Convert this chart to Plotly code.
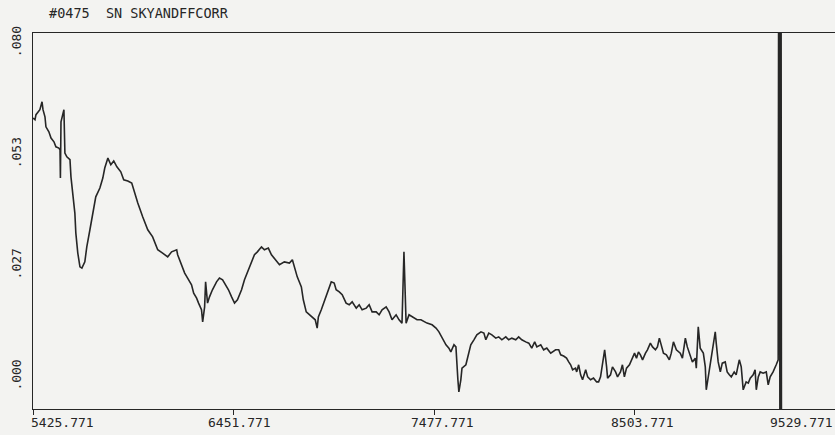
import plotly.graph_objects as go

# ---- data ----
title_text = "#0475  SN SKYANDFFCORR"

wavelength = [
    5426, 5436, 5441, 5461, 5472, 5477, 5487, 5492, 5507, 5518, 5533, 5543, 5558, 5564,
    5566, 5569, 5584, 5589, 5599, 5615, 5620, 5630, 5640, 5645, 5655, 5666, 5676, 5691,
    5701, 5717, 5732, 5747, 5768, 5783, 5793, 5809, 5824, 5839, 5855, 5875, 5890, 5911,
    5931, 5946, 5962, 5987, 6013, 6038, 6064, 6089, 6115, 6135, 6161, 6166, 6186, 6202,
    6217, 6237, 6248, 6263, 6273, 6288, 6294, 6304, 6309, 6319, 6329, 6344, 6365, 6380,
    6396, 6411, 6426, 6442, 6457, 6472, 6493, 6508, 6523, 6544, 6559, 6574, 6595, 6610,
    6630, 6646, 6666, 6687, 6712, 6738, 6753, 6763, 6778, 6799, 6809, 6824, 6840, 6855,
    6870, 6880, 6886, 6901, 6916, 6932, 6952, 6967, 6977, 6993, 7008, 7028, 7044, 7059,
    7080, 7095, 7110, 7131, 7146, 7161, 7182, 7197, 7212, 7233, 7248, 7263, 7284, 7299,
    7314, 7324, 7335, 7350, 7376, 7391, 7411, 7427, 7442, 7468, 7488, 7503, 7519, 7539,
    7554, 7564, 7580, 7590, 7600, 7605, 7615, 7621, 7641, 7656, 7666, 7682, 7697, 7718,
    7733, 7743, 7758, 7774, 7794, 7809, 7825, 7845, 7860, 7876, 7896, 7911, 7927, 7947,
    7963, 7978, 7993, 8004, 8024, 8039, 8055, 8075, 8100, 8116, 8126, 8141, 8156, 8167,
    8177, 8187, 8202, 8208, 8218, 8228, 8238, 8254, 8264, 8279, 8294, 8310, 8320, 8330,
    8341, 8351, 8361, 8366, 8381, 8391, 8407, 8417, 8432, 8442, 8452, 8463, 8478, 8488,
    8504, 8514, 8524, 8534, 8545, 8560, 8570, 8585, 8596, 8611, 8621, 8631, 8641, 8652,
    8667, 8682, 8692, 8703, 8718, 8728, 8738, 8749, 8764, 8774, 8789, 8800, 8815, 8820,
    8830, 8840, 8856, 8866, 8871, 8881, 8892, 8907, 8917, 8922, 8932, 8943, 8953, 8968,
    8978, 8989, 8999, 9014, 9024, 9040, 9050, 9060, 9075, 9086, 9096, 9111, 9121, 9127,
    9137, 9147, 9162, 9178, 9188, 9198, 9213, 9229, 9239, 9244, 9248, 9252, 9256,
]

flux = [
    0.0621, 0.0617, 0.0629, 0.0641, 0.0660, 0.0641, 0.0624, 0.0600, 0.0588, 0.0573, 0.0564, 0.0552, 0.0549, 0.0545,
    0.0477, 0.0612, 0.0641, 0.0537, 0.0528, 0.0521, 0.0480, 0.0441, 0.0393, 0.0345, 0.0297, 0.0264, 0.0261, 0.0276,
    0.0312, 0.0353, 0.0393, 0.0432, 0.0453, 0.0477, 0.0501, 0.0525, 0.0509, 0.0518, 0.0504, 0.0492, 0.0473, 0.0470,
    0.0465, 0.0441, 0.0417, 0.0384, 0.0353, 0.0336, 0.0305, 0.0297, 0.0288, 0.0300, 0.0305, 0.0293, 0.0269, 0.0249,
    0.0237, 0.0221, 0.0201, 0.0189, 0.0177, 0.0161, 0.0132, 0.0168, 0.0228, 0.0177, 0.0192, 0.0209, 0.0228, 0.0237,
    0.0233, 0.0221, 0.0209, 0.0192, 0.0177, 0.0185, 0.0209, 0.0233, 0.0252, 0.0276, 0.0293, 0.0300, 0.0312, 0.0305,
    0.0309, 0.0293, 0.0281, 0.0269, 0.0276, 0.0273, 0.0281, 0.0264, 0.0240, 0.0216, 0.0185, 0.0156, 0.0149, 0.0144,
    0.0137, 0.0117, 0.0144, 0.0161, 0.0180, 0.0204, 0.0228, 0.0225, 0.0209, 0.0204, 0.0197, 0.0177, 0.0173, 0.0180,
    0.0165, 0.0173, 0.0161, 0.0165, 0.0173, 0.0156, 0.0156, 0.0149, 0.0161, 0.0168, 0.0156, 0.0137, 0.0149, 0.0137,
    0.0129, 0.0300, 0.0129, 0.0149, 0.0141, 0.0137, 0.0137, 0.0132, 0.0129, 0.0125, 0.0117, 0.0108, 0.0093, 0.0077,
    0.0069, 0.0060, 0.0077, 0.0072, -0.0007, -0.0036, -0.0007, 0.0021, 0.0029, 0.0057, 0.0077, 0.0089, 0.0101, 0.0108,
    0.0105, 0.0089, 0.0105, 0.0101, 0.0093, 0.0096, 0.0089, 0.0096, 0.0089, 0.0093, 0.0089, 0.0096, 0.0089, 0.0084,
    0.0081, 0.0069, 0.0084, 0.0072, 0.0077, 0.0065, 0.0069, 0.0057, 0.0065, 0.0065, 0.0053, 0.0050, 0.0045, 0.0036,
    0.0029, 0.0017, 0.0021, 0.0012, 0.0029, 0.0005, -0.0007, 0.0017, 0.0000, -0.0007, -0.0003, -0.0012, -0.0012, 0.0000,
    0.0033, 0.0065, 0.0024, -0.0003, 0.0005, 0.0024, 0.0012, 0.0000, 0.0012, 0.0029, 0.0000, 0.0021, 0.0029, 0.0041,
    0.0057, 0.0045, 0.0060, 0.0053, 0.0041, 0.0057, 0.0065, 0.0081, 0.0072, 0.0065, 0.0072, 0.0093, 0.0072, 0.0057,
    0.0053, 0.0041, 0.0057, 0.0084, 0.0065, 0.0060, 0.0057, 0.0045, 0.0093, 0.0072, 0.0048, 0.0036, 0.0045, 0.0021,
    0.0120, 0.0069, 0.0057, 0.0024, -0.0031, 0.0000, 0.0033, 0.0081, 0.0108, 0.0081, 0.0036, 0.0012, 0.0033, 0.0036,
    0.0012, 0.0005, 0.0000, 0.0012, 0.0005, 0.0041, 0.0024, -0.0031, -0.0012, -0.0015, -0.0003, 0.0005, 0.0017, -0.0031,
    0.0000, 0.0012, 0.0009, 0.0012, -0.0019, 0.0000, 0.0012, 0.0029, 0.0041, 0.2000, -0.0300, 0.2000, -0.0300,
]

x_tick_values = [5425.771, 6451.771, 7477.771, 8503.771, 9529.771]
x_tick_labels = ["5425.771", "6451.771", "7477.771", "8503.771", "9529.771"]
y_tick_values = [0.0, 0.02667, 0.05333, 0.08]
y_tick_labels = [".000", ".027", ".053", ".080"]

# ---- styling ----
paper_bg = "#f3f3f1"
ink = "#262626"
mono = "DejaVu Sans Mono"
label_xshift = [29, 6, 8, 8, 0]
label_anchor = ["center", "center", "center", "center", "right"]

fig = go.Figure()
fig.add_trace(go.Scatter(
    x=wavelength, y=flux, mode="lines",
    line=dict(color=ink, width=1.6),
    hoverinfo="skip", showlegend=False,
))

for val, txt, dx, anc in zip(x_tick_values, x_tick_labels, label_xshift, label_anchor):
    fig.add_annotation(
        x=val, y=0, xref="x", yref="paper", text=txt, showarrow=False,
        xanchor=anc, yanchor="middle", xshift=dx, yshift=-13,
        font=dict(family=mono, size=13, color=ink),
    )

fig.add_annotation(
    x=0.0175, y=1, xref="paper", yref="paper", text=title_text, showarrow=False,
    xanchor="left", yanchor="middle", yshift=20,
    font=dict(family=mono, size=13.5, color=ink),
)

fig.update_layout(
    width=835, height=435,
    margin=dict(l=33, r=0, t=33, b=26),
    paper_bgcolor=paper_bg, plot_bgcolor=paper_bg,
    hovermode=False,
    xaxis=dict(
        range=[5425.771, 9529.771], showgrid=False, zeroline=False, automargin=False,
        showline=True, linecolor=ink, linewidth=1.4, mirror=True,
        tickmode="array", tickvals=x_tick_values[:4], showticklabels=False,
        ticks="outside", ticklen=5, tickcolor=ink, tickwidth=1,
    ),
    yaxis=dict(
        range=[-0.0077, 0.0825], showgrid=False, zeroline=False, automargin=False,
        showline=True, linecolor=ink, linewidth=1.4, mirror=False,
        tickmode="array", tickvals=y_tick_values, ticktext=y_tick_labels,
        tickangle=-90, ticks="", ticklabelstandoff=6,
        tickfont=dict(family=mono, size=13, color=ink),
    ),
)

page_fix = (
    "document.documentElement.style.margin='0';"
    "document.body.style.margin='0';"
    "document.body.style.overflow='hidden';"
    "document.body.style.background='#f3f3f1';"
)

fig.write_html("out.html", post_script=page_fix, config={"displayModeBar": False})
